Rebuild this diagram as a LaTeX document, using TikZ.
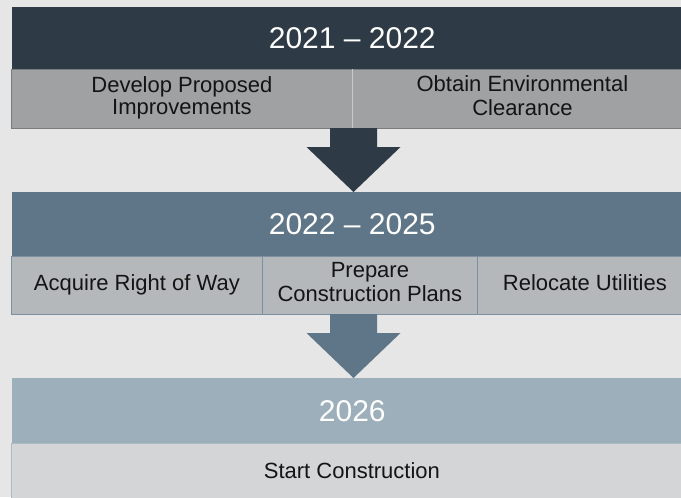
\documentclass[tikz,border=0pt]{standalone}
\usepackage{fontspec}
\setmainfont{Liberation Sans}
\usetikzlibrary{calc}
\definecolor{bg}{HTML}{E6E6E6}
\definecolor{hdrA}{HTML}{2E3B46}
\definecolor{rowA}{HTML}{A0A1A3}
\definecolor{lineA}{HTML}{7A7D80}
\definecolor{divA}{HTML}{C8C9CA}
\definecolor{hdrB}{HTML}{5F7588}
\definecolor{rowB}{HTML}{B4B8BA}
\definecolor{lineB}{HTML}{7D8FA0}
\definecolor{hdrC}{HTML}{9DAFBB}
\definecolor{rowC}{HTML}{D3D5D7}
\definecolor{lineC}{HTML}{AEBAC3}
\definecolor{txt}{HTML}{141414}
\def\u{0.75pt}
\newcommand\tallstrut{\rule[-4.95pt]{0pt}{15.5pt}}
\tikzset{
  hdr/.style={anchor=north west, inner sep=0pt, text=white,
    font=\fontsize{22.5}{24}\selectfont},
  cell/.style={anchor=north west, inner sep=0pt, text=txt, align=center,
    line width=0.6pt, font=\fontsize{16.5}{16.5}\selectfont},
}
\begin{document}
\begin{tikzpicture}[x=0.75pt,y=-0.75pt]
\useasboundingbox (0,0) rectangle (681,497);
\fill[bg] (0,0) rectangle (681,497);
\begin{scope}
\clip (0,0) rectangle (681,497);
% stage 1
\node[hdr, fill=hdrA, minimum width=680*\u, minimum height=62*\u] (h1) at (12,7) {2021 – 2022};
\node[cell, fill=rowA, draw=lineA, minimum width=341*\u, minimum height=59*\u] (c11) at (11,69) {\tallstrut Develop Proposed\\\strut Improvements};
\node[cell, fill=rowA, draw=lineA, minimum width=340*\u, minimum height=59*\u] (c12) at (352,69) {\tallstrut Obtain Environmental\\\strut Clearance};
\draw[divA, line width=0.8pt] (c11.north east) -- (c11.south east);
% stage 2
\node[hdr, fill=hdrB, minimum width=680*\u, minimum height=64*\u] (h2) at (12,192) {2022 – 2025};
\node[cell, fill=rowB, draw=lineB, minimum width=251*\u, minimum height=58*\u] (c21) at (11,256) {\strut Acquire Right of Way};
\node[cell, fill=rowB, draw=lineB, minimum width=215*\u, minimum height=58*\u] (c22) at (262,256) {\strut Prepare\\\strut Construction Plans};
\node[cell, fill=rowB, draw=lineB, minimum width=215*\u, minimum height=58*\u] (c23) at (477,256) {\strut Relocate Utilities};
% stage 3
\node[hdr, fill=hdrC, minimum width=680*\u, minimum height=65*\u] (h3) at (12,378) {2026};
\node[cell, fill=rowC, draw=lineC, minimum width=681*\u, minimum height=60*\u] (c31) at (11,443) {\strut Start Construction};
\end{scope}
% arrows
\coordinate (a1) at (353.5,128);
\fill[hdrA] ([xshift=-23.5*\u]a1) -- ([xshift=23.5*\u]a1)
  -- ([xshift=23.5*\u,yshift=-19*\u]a1) -- ([xshift=47*\u,yshift=-19*\u]a1)
  -- (a1 |- h2.north)
  -- ([xshift=-47*\u,yshift=-19*\u]a1) -- ([xshift=-23.5*\u,yshift=-19*\u]a1) -- cycle;
\coordinate (a2) at (353.5,314);
\fill[hdrB] ([xshift=-23.5*\u]a2) -- ([xshift=23.5*\u]a2)
  -- ([xshift=23.5*\u,yshift=-19*\u]a2) -- ([xshift=47*\u,yshift=-19*\u]a2)
  -- (a2 |- h3.north)
  -- ([xshift=-47*\u,yshift=-19*\u]a2) -- ([xshift=-23.5*\u,yshift=-19*\u]a2) -- cycle;
\end{tikzpicture}
\end{document}
